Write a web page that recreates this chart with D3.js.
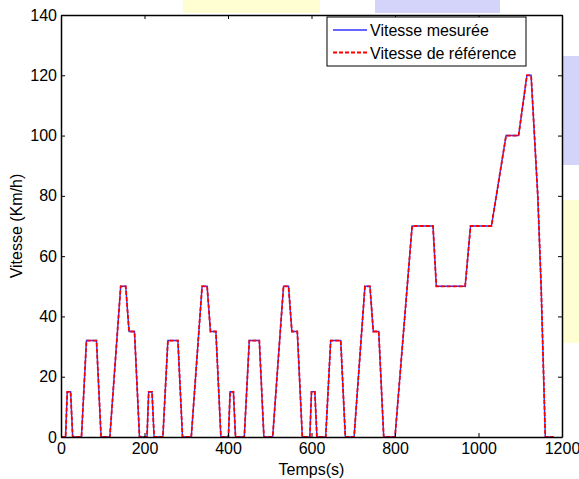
<!DOCTYPE html>
<html>
<head>
<meta charset="utf-8">
<script src="https://cdn.jsdelivr.net/npm/d3@7"></script>
<style>
  body { margin: 0; background: #fff; }
  text { font-family: "Liberation Sans", Arial, sans-serif; }
</style>
</head>
<body>
<div id="chart"></div>
<script>
// one urban ECE-15 cycle (time s, speed km/h), repeated 4 times
var ecaTime  = [0, 11, 15, 23, 28, 49, 61, 85, 96, 117, 143, 155, 163, 176, 188, 195];
var ecaSpeed = [0, 0, 15, 15, 0, 0, 32, 32, 0, 0, 50, 50, 35, 35, 0, 0];
var ecaOffsets = [0, 195, 390, 585];

// extra-urban part
var eudcTime  = [780, 800, 841, 891, 899, 968, 981, 1031, 1066, 1096, 1116, 1126, 1142, 1150, 1160, 1180];
var eudcSpeed = [0, 0, 70, 70, 50, 50, 70, 70, 100, 100, 120, 120, 80, 50, 0, 0];

var xTicks = [0, 200, 400, 600, 800, 1000, 1200];
var yTicks = [0, 20, 40, 60, 80, 100, 120, 140];
var legendLabels = ["Vitesse mesurée", "Vitesse de référence"];

var W = 579, H = 479;
var margin = {left: 61, top: 15, right: 17, bottom: 42};
var fontSize = "16px";

var svg = d3.select("#chart").append("svg")
    .attr("width", W)
    .attr("height", H);

// scanner blotches around the figure
var blotches = [
    {x: 183, y: 0, w: 137, h: 13, c: "#fffdd2"},
    {x: 375, y: 0, w: 125, h: 13, c: "#d4d4fa"},
    {x: 562, y: 56, w: 17, h: 109, c: "#d4d4fa"},
    {x: 562, y: 200, w: 17, h: 143, c: "#fffdd2"}
];
svg.selectAll(".blotch")
    .data(blotches)
  .enter().append("rect")
    .attr("x", function(d) { return d.x; })
    .attr("y", function(d) { return d.y; })
    .attr("width", function(d) { return d.w; })
    .attr("height", function(d) { return d.h; })
    .style("fill", function(d) { return d.c; });

var x = d3.scaleLinear().domain([0, 1200]).range([margin.left, W - margin.right]);
var y = d3.scaleLinear().domain([0, 140]).range([H - margin.bottom, margin.top]);

// build the data
var data = [];
ecaOffsets.forEach(function(off) {
    for (var i = 0; i < ecaTime.length; i++) {
        data.push([ecaTime[i] + off, ecaSpeed[i]]);
    }
});
for (var i = 0; i < eudcTime.length; i++) {
    data.push([eudcTime[i], eudcSpeed[i]]);
}

var line = d3.line()
    .x(function(d) { return x(d[0]); })
    .y(function(d) { return y(d[1]); });

var plot = svg.append("g");
plot.append("rect")
    .attr("x", x(0)).attr("y", y(140))
    .attr("width", x(1200) - x(0)).attr("height", y(0) - y(140))
    .style("fill", "#fff");

plot.append("path")
    .datum(data)
    .attr("d", line)
    .style("fill", "none")
    .style("stroke", "#3333ff")
    .style("stroke-width", 1.4);

plot.append("path")
    .datum(data)
    .attr("d", line)
    .style("fill", "none")
    .style("stroke", "#ff0000")
    .style("stroke-width", 1.8)
    .style("stroke-dasharray", "4,2");

// axes, matlab style: ticks inward on all four sides
var tickLen = 4;
var fmt = d3.format("d");
var axB = svg.append("g").attr("transform", "translate(0," + y(0) + ")")
    .call(d3.axisBottom(x).tickValues(xTicks).tickFormat(fmt).tickSizeInner(-tickLen).tickSizeOuter(0).tickPadding(6));
var axT = svg.append("g").attr("transform", "translate(0," + y(140) + ")")
    .call(d3.axisTop(x).tickValues(xTicks).tickSizeInner(-tickLen).tickSizeOuter(0).tickFormat(""));
var axL = svg.append("g").attr("transform", "translate(" + x(0) + ",0)")
    .call(d3.axisLeft(y).tickValues(yTicks).tickFormat(fmt).tickSizeInner(-tickLen).tickSizeOuter(0).tickPadding(4));
var axR = svg.append("g").attr("transform", "translate(" + x(1200) + ",0)")
    .call(d3.axisRight(y).tickValues(yTicks).tickSizeInner(-tickLen).tickSizeOuter(0).tickFormat(""));

[axB, axT, axL, axR].forEach(function(a) {
    a.select(".domain").style("stroke", "#000").style("stroke-width", 1.5);
    a.selectAll(".tick line").style("stroke", "#000");
    a.selectAll("text").style("font-size", fontSize).style("fill", "#000")
        .style("font-family", "'Liberation Sans', Arial, sans-serif");
});

// axis titles
svg.append("text")
    .attr("x", (x(0) + x(1200)) / 2)
    .attr("y", 475)
    .attr("text-anchor", "middle")
    .style("font-size", fontSize)
    .text("Temps(s)");

svg.append("text")
    .attr("transform", "translate(22," + (y(70)) + ") rotate(-90)")
    .attr("text-anchor", "middle")
    .style("font-size", fontSize)
    .text("Vitesse (Km/h)");

// legend
var lg = svg.append("g").attr("transform", "translate(327,17)");
lg.append("rect")
    .attr("width", 199).attr("height", 49)
    .style("fill", "#fff")
    .style("stroke", "#000")
    .style("stroke-width", 1);
var legendStyles = [
    {c: "#3333ff", dash: null, w: 1.4},
    {c: "#ff0000", dash: "4,2", w: 1.8}
];
legendLabels.forEach(function(lab, i) {
    var yy = 13 + i * 22.5;
    lg.append("line")
        .attr("x1", 6).attr("x2", 40).attr("y1", yy).attr("y2", yy)
        .style("stroke", legendStyles[i].c)
        .style("stroke-width", legendStyles[i].w)
        .style("stroke-dasharray", legendStyles[i].dash);
    lg.append("text")
        .attr("x", 43).attr("y", yy + 6)
        .style("font-size", fontSize)
        .text(lab);
});
</script>
</body>
</html>
